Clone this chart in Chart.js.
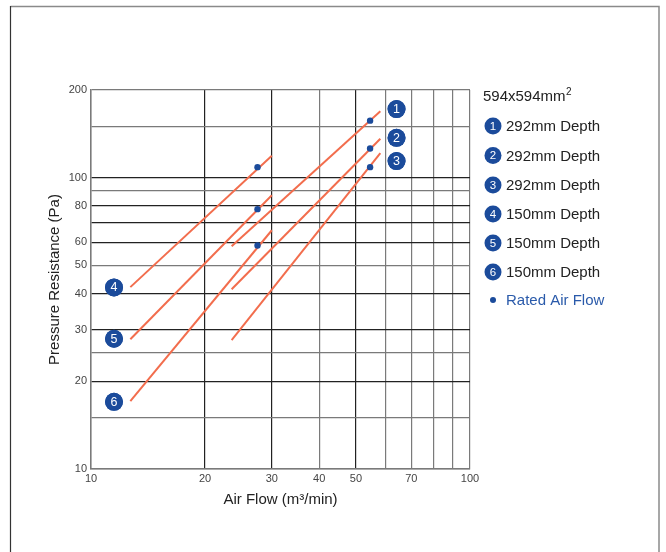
<!DOCTYPE html>
<html>
<head>
<meta charset="utf-8">
<script src="https://cdn.jsdelivr.net/npm/chart.js@4.4.1/dist/chart.umd.min.js"></script>
<style>
  html, body { margin: 0; padding: 0; background: #fff; }
  #wrap { width: 666px; height: 552px; position: relative; }
</style>
</head>
<body>
<div id="wrap"><canvas id="chart"></canvas></div>
<script>
// filter curves: 1-3 are 292mm depth, 4-6 are 150mm depth
const seriesNames = ['1', '2', '3', '4', '5', '6'];
const seriesLabels = ['292mm Depth', '292mm Depth', '292mm Depth', '150mm Depth', '150mm Depth', '150mm Depth'];
const startFlow = [23.5, 23.5, 23.5, 12.7, 12.7, 12.7];
const endFlow = [58, 58, 58, 30, 30, 30];
const startPa = [58.2, 41.4, 27.7, 42.1, 27.9, 17.1];
const endPa = [169, 136, 121.5, 119, 87, 66];
const ratedFlow = [54.5, 54.5, 54.5, 27.5, 27.5, 27.5];
const ratedPa = [157, 126, 108.7, 108.7, 78, 58.5];
const badgeFlow = [64, 64, 64, 11.5, 11.5, 11.5];
const badgePa = [172, 137, 114, 42, 28, 17];

const xGrid = [10, 20, 30, 40, 50, 60, 70, 80, 90, 100];
const xTickLabels = [10, 20, 30, 40, 50, 70, 100];
const xDarkLines = [20, 30, 50];
const yGrid = [10, 15, 20, 25, 30, 40, 50, 60, 70, 80, 90, 100, 150, 200];
const yTickLabels = [10, 20, 30, 40, 50, 60, 80, 100, 200];
const yDarkLines = [20, 30, 40, 60, 70, 80, 100];

const legendTitle = '594x594mm';
const legendTitleSup = '2';
const ratedLabel = 'Rated Air Flow';

const ORANGE = '#f26d4d';
const BLUE = '#1b4b9b';
const FONT = "'Liberation Sans', Arial, sans-serif";

const datasets = seriesNames.map((n, i) => ({
    type: 'line',
    label: n,
    order: 2,
    data: [{ x: startFlow[i], y: startPa[i] }, { x: endFlow[i], y: endPa[i] }],
    borderColor: ORANGE,
    borderWidth: 2,
    pointRadius: 0,
    fill: false
}));

datasets.push({
    type: 'scatter',
    label: ratedLabel,
    order: 0,
    data: ratedFlow.map((x, i) => ({ x, y: ratedPa[i] })),
    backgroundColor: BLUE,
    borderWidth: 0,
    pointRadius: 3.2
});

datasets.push({
    type: 'scatter',
    label: 'badges',
    order: 1,
    data: badgeFlow.map((x, i) => ({ x, y: badgePa[i] })),
    backgroundColor: BLUE,
    borderWidth: 0,
    pointRadius: 9
});

function badge(ctx, x, y, r, txt, size) {
    ctx.beginPath();
    ctx.arc(x, y, r, 0, Math.PI * 2);
    ctx.fillStyle = BLUE;
    ctx.fill();
    ctx.fillStyle = '#fff';
    ctx.font = size + 'px ' + FONT;
    ctx.textAlign = 'center';
    ctx.textBaseline = 'middle';
    ctx.fillText(txt, x, y + 0.5);
}

const extras = {
    id: 'extras',
    beforeDraw(chart) {
        const ctx = chart.ctx;
        ctx.save();
        ctx.lineWidth = 1.5;
        ctx.strokeStyle = '#8a8a8a';
        ctx.beginPath();
        ctx.moveTo(10.5, 6.5);
        ctx.lineTo(659, 6.5);
        ctx.lineTo(659, 552);
        ctx.stroke();
        ctx.strokeStyle = '#333';
        ctx.lineWidth = 1.2;
        ctx.beginPath();
        ctx.moveTo(10.5, 6);
        ctx.lineTo(10.5, 552);
        ctx.stroke();
        ctx.restore();
    },
    afterDatasetsDraw(chart) {
        const ctx = chart.ctx;
        const meta = chart.getDatasetMeta(datasets.length - 1);
        ctx.save();
        meta.data.forEach((pt, i) => {
            badge(ctx, pt.x, pt.y, 9, seriesNames[i], 12.5);
        });
        ctx.restore();
    },
    afterDraw(chart) {
        const ctx = chart.ctx;
        ctx.save();
        ctx.textBaseline = 'middle';
        ctx.textAlign = 'left';
        ctx.fillStyle = '#222';
        ctx.font = '15px ' + FONT;
        ctx.fillText(legendTitle, 483, 97);
        const w = ctx.measureText(legendTitle).width;
        ctx.font = '10px ' + FONT;
        ctx.fillText(legendTitleSup, 483 + w + 0.5, 92);
        const rowY = [126, 155.5, 185, 214, 243, 272];
        seriesNames.forEach((n, i) => {
            badge(ctx, 493, rowY[i], 8.5, n, 11.5);
            ctx.textAlign = 'left';
            ctx.fillStyle = '#222';
            ctx.font = '15px ' + FONT;
            ctx.fillText(seriesLabels[i], 506, rowY[i] + 1);
        });
        ctx.beginPath();
        ctx.arc(493, 300, 3, 0, Math.PI * 2);
        ctx.fillStyle = BLUE;
        ctx.fill();
        ctx.fillStyle = '#2a5aaa';
        ctx.fillText(ratedLabel, 506, 301);
        ctx.restore();
    }
};

new Chart(document.getElementById('chart'), {
    type: 'line',
    data: { datasets },
    options: {
        responsive: true,
        maintainAspectRatio: false,
        animation: false,
        layout: { padding: { left: 0, top: 90, right: 196, bottom: 0 } },
        plugins: { legend: { display: false }, tooltip: { enabled: false } },
        scales: {
            x: {
                type: 'logarithmic',
                min: 10,
                max: 100,
                afterBuildTicks: s => { s.ticks = xGrid.map(v => ({ value: v })); },
                afterFit: s => { s.height = 83; },
                ticks: {
                    autoSkip: false,
                    maxRotation: 0,
                    padding: 3,
                    color: '#444',
                    font: { family: FONT, size: 11 },
                    callback: v => xTickLabels.includes(v) ? String(v) : ''
                },
                grid: {
                    drawTicks: false,
                    lineWidth: 1.2,
                    color: c => xDarkLines.includes(c.tick && c.tick.value) ? '#222' : '#7a7a7a'
                },
                border: { color: '#7a7a7a', width: 1.5 },
                title: {
                    display: true,
                    text: 'Air Flow (m³/min)',
                    color: '#222',
                    font: { family: FONT, size: 15 },
                    padding: { top: 0, bottom: 43 }
                }
            },
            y: {
                type: 'logarithmic',
                min: 10,
                max: 200,
                afterBuildTicks: s => { s.ticks = yGrid.map(v => ({ value: v })); },
                afterFit: s => { s.width = 91; },
                ticks: {
                    autoSkip: false,
                    padding: 4,
                    color: '#444',
                    font: { family: FONT, size: 11 },
                    callback: v => yTickLabels.includes(v) ? String(v) : ''
                },
                grid: {
                    drawTicks: false,
                    lineWidth: 1.2,
                    color: c => yDarkLines.includes(c.tick && c.tick.value) ? '#222' : '#7a7a7a'
                },
                border: { color: '#7a7a7a', width: 1.5 },
                title: {
                    display: true,
                    text: 'Pressure Resistance (Pa)',
                    color: '#222',
                    font: { family: FONT, size: 15 },
                    padding: { top: 46, bottom: 0 }
                }
            }
        }
    },
    plugins: [extras]
});
</script>
</body>
</html>
